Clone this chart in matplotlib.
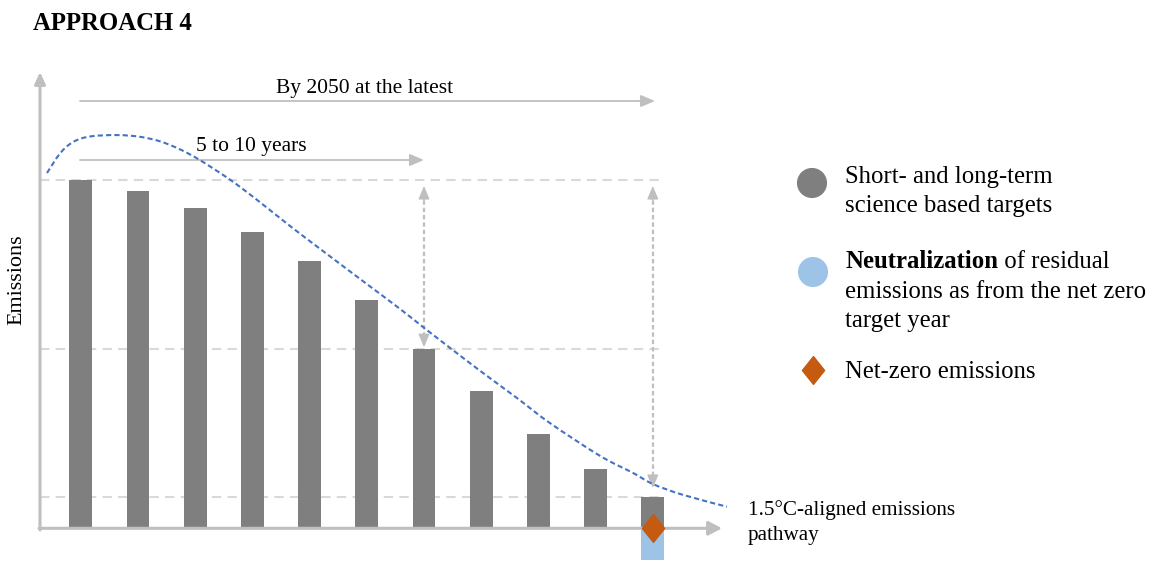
import numpy as np
import matplotlib
matplotlib.use("Agg")
import matplotlib.pyplot as plt
from matplotlib.path import Path
from matplotlib.patches import PathPatch

# emissions per target year, first bar = 100
bar_heights = [100, 96.9, 92.0, 85.0, 76.8, 65.5, 51.5, 39.5, 27.1, 17.0, 9.1]
neutralization = [0, 0, 0, 0, 0, 0, 0, 0, 0, 0, -9.1]
net_zero_idx = 10
short_term_idx = 6

# 1.5C pathway (x in bar steps, y in emission units)
path_x = [-0.591, -0.364, -0.136, 0.161, 0.633, 1.035, 1.385, 1.734, 2.084,
          2.608, 3.080, 3.657, 4.234, 5.003, 5.580, 5.982, 6.455, 7.031,
          7.626, 8.203, 9.077, 9.654, 10.003, 10.528, 11.297]
path_y = [102.0, 107.6, 110.9, 112.5, 112.9, 112.4, 111.1, 108.8, 105.7,
          100.1, 94.3, 86.8, 79.6, 70.1, 63.0, 57.8, 51.8, 44.6,
          37.4, 30.2, 20.8, 15.9, 12.7, 9.6, 6.2]

GRAY = "#7f7f7f"
LIGHT = "#bfbfbf"
DASHGRAY = "#d9d9d9"
BLUE = "#9dc3e6"
ORANGE = "#c55a11"
LINEBLUE = "#4472c4"

plt.rcParams["font.family"] = ["Liberation Serif", "DejaVu Serif"]

# pixel layout helpers
X0, DX = 80.8, 57.2
Y0, DY = 528.3, 3.483
W, H = 1153, 562


def dx(px):
    return (px - X0) / DX


def dy(py):
    return (Y0 - py) / DY


fig = plt.figure(figsize=(W / 100, H / 100), dpi=100)
ax = fig.add_axes([0, 0, 1, 1])
ax.set_xlim(dx(0), dx(W))
ax.set_ylim(dy(H), dy(0))
ax.axis("off")

idx = np.arange(len(bar_heights))
ax.bar(idx, bar_heights, width=0.40, color=GRAY, zorder=3)
ax.bar(idx, neutralization, width=0.40, color=BLUE, zorder=2)

# reference levels
for lvl in (bar_heights[0], bar_heights[short_term_idx], bar_heights[net_zero_idx]):
    ax.plot([dx(40), dx(662)], [lvl, lvl], color=DASHGRAY, lw=1.5,
            linestyle=(0, (4.5, 3)), zorder=1)

# axes with arrow tips
ax.annotate("", xy=(dx(40), dy(72)), xytext=(dx(40), dy(530)),
            arrowprops=dict(arrowstyle="-|>,head_length=7,head_width=3.2",
                            mutation_scale=1, color=LIGHT, lw=2.2, shrinkA=0, shrinkB=0),
            zorder=4)
ax.annotate("", xy=(dx(722), 0), xytext=(dx(39), 0),
            arrowprops=dict(arrowstyle="-|>,head_length=8,head_width=4.2",
                            mutation_scale=1, color=LIGHT, lw=2.2, shrinkA=0, shrinkB=0),
            zorder=4)

# timeline arrows
horiz = dict(arrowstyle="-|>,head_length=8.5,head_width=3.6", mutation_scale=1,
             color=LIGHT, lw=1.3, shrinkA=0, shrinkB=0)
ax.annotate("", xy=(dx(655), dy(101)), xytext=(dx(80), dy(101)), arrowprops=horiz)
ax.annotate("", xy=(dx(424), dy(160)), xytext=(dx(80), dy(160)), arrowprops=horiz)
ax.text(dx(365), dy(93), "By 2050 at the latest", fontsize=15.5,
        ha="center", va="baseline")
ax.text(dx(251), dy(151), "5 to 10 years", fontsize=15.5, ha="center", va="baseline")


def double_arrow(i, top, bottom):
    x = idx[i]
    ax.plot([x, x], [top - 2, bottom + 2], color=LIGHT, lw=1.6,
            linestyle=(0, (2, 1.3)), zorder=2)
    head = dict(arrowstyle="-|>,head_length=8,head_width=3.4", mutation_scale=1,
                color=LIGHT, lw=1.0, shrinkA=0, shrinkB=0)
    ax.annotate("", xy=(x, top), xytext=(x, top - 4), arrowprops=head, zorder=2)
    ax.annotate("", xy=(x, bottom), xytext=(x, bottom + 4), arrowprops=head, zorder=2)


double_arrow(short_term_idx, dy(186), bar_heights[short_term_idx] + 0.5)
double_arrow(net_zero_idx, dy(186), dy(488))

# smooth pathway curve (Catmull-Rom -> cubic bezier)
pts = np.column_stack([path_x, path_y])
ext = np.vstack([pts[0], pts, pts[-1]])
verts = [tuple(pts[0])]
codes = [Path.MOVETO]
for k in range(1, len(ext) - 2):
    p0, p1, p2, p3 = ext[k - 1], ext[k], ext[k + 1], ext[k + 2]
    verts += [tuple(p1 + (p2 - p0) / 6), tuple(p2 - (p3 - p1) / 6), tuple(p2)]
    codes += [Path.CURVE4] * 3
ax.add_patch(PathPatch(Path(verts, codes), facecolor="none", edgecolor=LINEBLUE,
                       lw=1.5, linestyle=(0, (2.5, 1.5)), zorder=5))

diamond = Path([(0, 1), (0.8, 0), (0, -1), (-0.8, 0), (0, 1)],
               [Path.MOVETO, Path.LINETO, Path.LINETO, Path.LINETO, Path.CLOSEPOLY])
ax.plot(idx[net_zero_idx], 0, marker=diamond, markersize=20, color=ORANGE,
        linestyle="none", zorder=6)

# legend
ax.scatter(dx(812), dy(183), s=470, color=GRAY, edgecolors="none")
ax.scatter(dx(813), dy(272), s=470, color=BLUE, edgecolors="none")
ax.plot(dx(813), dy(370), marker=diamond, markersize=20, color=ORANGE, linestyle="none")

fs = 17.8
lx = dx(845)
ax.text(lx, dy(183), "Short- and long-term", fontsize=fs, va="baseline")
ax.text(lx, dy(212), "science based targets", fontsize=fs, va="baseline")
bold = ax.text(lx, dy(268), "Neutralization", fontsize=fs, fontweight="bold",
               va="baseline")
ax.annotate(" of residual", xy=(1, 0), xycoords=bold, fontsize=fs,
            ha="left", va="bottom")
ax.text(lx, dy(298), "emissions as from the net zero", fontsize=fs, va="baseline")
ax.text(lx, dy(327), "target year", fontsize=fs, va="baseline")
ax.text(lx, dy(378), "Net-zero emissions", fontsize=fs, va="baseline")

ax.text(dx(748), dy(515), "1.5°C-aligned emissions", fontsize=15.2, va="baseline")
ax.text(dx(748), dy(540), "pathway", fontsize=15.2, va="baseline")

ax.text(dx(33), dy(29.5), "APPROACH 4", fontsize=17.8, fontweight="bold",
        va="baseline")
ax.text(dx(17), dy(280), "Emissions", fontsize=15.9, rotation=90,
        ha="center", va="center")

fig.savefig("out.png", dpi=100)
